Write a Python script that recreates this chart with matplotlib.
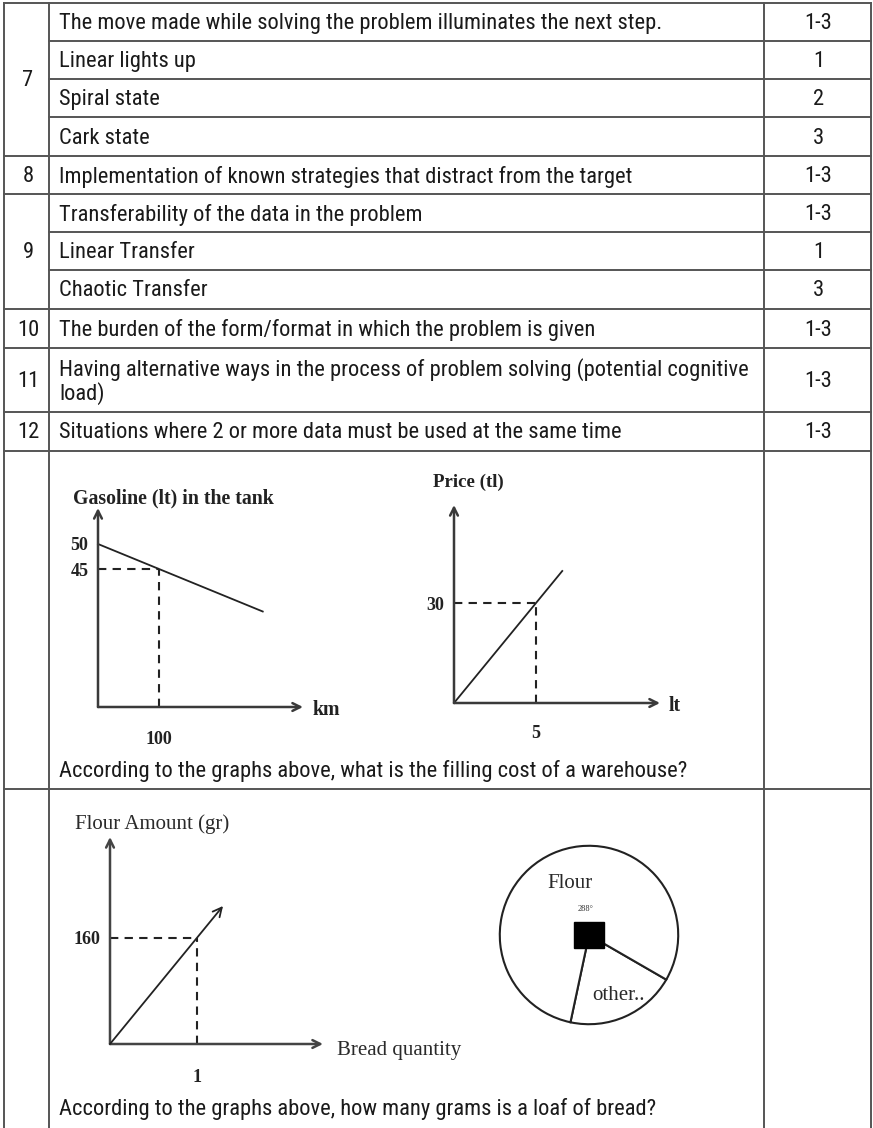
import matplotlib
matplotlib.use("Agg")
import matplotlib.pyplot as plt
from matplotlib import font_manager
from matplotlib.patches import Rectangle

# table content
row_nums = ["7", "", "", "", "8", "9", "", "", "10", "11", "12"]
row_texts = [
    "The move made while solving the problem illuminates the next step.",
    "Linear lights up",
    "Spiral state",
    "Cark state",
    "Implementation of known strategies that distract from the target",
    "Transferability of the data in the problem",
    "Linear Transfer",
    "Chaotic Transfer",
    "The burden of the form/format in which the problem is given",
    "Having alternative ways in the process of problem solving (potential cognitive\nload)",
    "Situations where 2 or more data must be used at the same time",
]
row_scores = ["1-3", "1", "2", "3", "1-3", "1-3", "1", "3", "1-3", "1-3", "1-3"]
question_1 = "According to the graphs above, what is the filling cost of a warehouse?"
question_2 = "According to the graphs above, how many grams is a loaf of bread?"

# graph data (read from the sketches)
gas_km = [0, 100, 270]
gas_lt = [50, 45, 36.5]
price_lt = [0, 5, 6.6]
price_tl = [0, 30, 39.6]
flour_bread = [0, 1, 1.3]
flour_gr = [0, 160, 208]
pie_deg = [72, 288]  # other, flour

W, H = 873, 1128
names = {f.name for f in font_manager.fontManager.ttflist}
sans = next(n for n in ["Liberation Sans Narrow", "Roboto Condensed", "Roboto", "DejaVu Sans"] if n in names)
serif = "Liberation Serif"
line_c = "#555555"
ink = "#1a1a1a"

fig = plt.figure(figsize=(W / 100, H / 100), dpi=100)
bg = fig.add_axes([0, 0, 1, 1])
bg.set_xlim(0, W)
bg.set_ylim(H, 0)
bg.axis("off")

# table grid
x_left, x_num, x_score, x_right = 4, 49, 764, 871
row_edges = [3, 41, 79, 117, 156, 194, 232, 270, 309, 348, 412, 451, 789, 1128]
full_lines = [3, 156, 194, 309, 348, 412, 451, 789]
for y in row_edges[:-1]:
    x0 = x_left if y in full_lines else x_num
    bg.plot([x0, x_right], [y, y], color=line_c, lw=1.4)
for x in [x_left, x_num, x_score, x_right]:
    bg.plot([x, x], [row_edges[0], H], color=line_c, lw=1.4)

tfont = dict(family=sans, fontsize=16.2, color=ink)
dy = 1.5
for i, txt in enumerate(row_texts):
    yc = (row_edges[i] + row_edges[i + 1]) / 2 + dy
    bg.text(59, yc, txt, ha="left", va="center", linespacing=1.1, **tfont)
    bg.text((x_score + x_right) / 2 + 1, yc, row_scores[i], ha="center", va="center", **tfont)
# number column, grouped rows get centred over their block
groups = {0: (0, 4), 4: (4, 5), 5: (5, 8), 8: (8, 9), 9: (9, 10), 10: (10, 11)}
for start, (a, b) in groups.items():
    yc = (row_edges[a] + row_edges[b]) / 2 + dy
    bg.text(28, yc, row_nums[start], ha="center", va="center", **tfont)

bg.text(59, 770 + dy, question_1, ha="left", va="center", **tfont)
bg.text(59, 1108 + dy, question_2, ha="left", va="center", **tfont)


def px_axes(left, top, right, bottom):
    return fig.add_axes([left / W, 1 - bottom / H, (right - left) / W, (bottom - top) / H])


def sketch_axes(ax, color="#3a3a3a"):
    for s in ax.spines.values():
        s.set_visible(False)
    ax.patch.set_alpha(0)
    ap = dict(arrowstyle="->", lw=1.8, color=color, mutation_scale=14, shrinkA=0, shrinkB=0)
    ax.annotate("", xy=(1, 0), xytext=(0, 0), xycoords="axes fraction", arrowprops=ap)
    ax.annotate("", xy=(0, 1), xytext=(0, 0), xycoords="axes fraction", arrowprops=ap)


dash = dict(color="#222222", lw=1.5, dashes=(4, 3), clip_on=False)

# graph 1: gasoline in the tank
ax1 = px_axes(98, 508, 303, 707)
ax1.set_xlim(0, 336)
ax1.set_ylim(17.4, 57.2)
sketch_axes(ax1)
ax1.plot(gas_km, gas_lt, color="#222222", lw=1.3, clip_on=False)
ax1.plot([0, gas_km[1]], [gas_lt[1], gas_lt[1]], **dash)
ax1.plot([gas_km[1], gas_km[1]], [17.4, gas_lt[1]], **dash)
ax1.set_yticks(gas_lt[:2])
ax1.set_yticklabels([str(v) for v in gas_lt[:2]])
ax1.set_xticks([gas_km[1]])
ax1.set_xticklabels([str(gas_km[1])])
ax1.tick_params(axis="y", length=0, pad=7)
ax1.tick_params(axis="x", length=0, pad=17)
for lab in ax1.get_xticklabels() + ax1.get_yticklabels():
    lab.set(family=serif, fontweight="bold", fontsize=13, color="#222222")
gfont = dict(family=serif, fontweight="bold", fontsize=14.3, color="#222222")
ax1.annotate("Gasoline (lt) in the tank", xy=(0, 1), xycoords="axes fraction",
             xytext=(-18, 6.5), textcoords="offset points", ha="left", va="center", **gfont)
ax1.annotate("km", xy=(1, 0), xycoords="axes fraction",
             xytext=(7, -2), textcoords="offset points", ha="left", va="center", **gfont)

# graph 2: price per litre
ax2 = px_axes(454, 505, 660, 703)
ax2.set_xlim(0, 12.56)
ax2.set_ylim(0, 59.4)
sketch_axes(ax2)
ax2.plot(price_lt, price_tl, color="#222222", lw=1.3, clip_on=False)
ax2.plot([0, price_lt[1]], [price_tl[1], price_tl[1]], **dash)
ax2.plot([price_lt[1], price_lt[1]], [0, price_tl[1]], **dash)
ax2.set_yticks([price_tl[1]])
ax2.set_yticklabels([str(price_tl[1])])
ax2.set_xticks([price_lt[1]])
ax2.set_xticklabels([str(price_lt[1])])
ax2.tick_params(axis="y", length=0, pad=7)
ax2.tick_params(axis="x", length=0, pad=16)
for lab in ax2.get_xticklabels() + ax2.get_yticklabels():
    lab.set(family=serif, fontweight="bold", fontsize=13, color="#222222")
ax2.annotate("Price (tl)", xy=(0, 1), xycoords="axes fraction",
             xytext=(-15, 16), textcoords="offset points", ha="left", va="center",
             family=serif, fontweight="bold", fontsize=13.6, color="#222222")
ax2.annotate("lt", xy=(1, 0), xycoords="axes fraction",
             xytext=(6, -2), textcoords="offset points", ha="left", va="center", **gfont)

# graph 3: flour per bread
ax3 = px_axes(110, 837, 323, 1044)
ax3.set_xlim(0, 2.45)
ax3.set_ylim(0, 312)
sketch_axes(ax3, color="#444444")
ax3.annotate("", xy=(flour_bread[2], flour_gr[2]), xytext=(0, 0), xycoords="data",
             arrowprops=dict(arrowstyle="->", lw=1.3, color="#222222", mutation_scale=16,
                             shrinkA=0, shrinkB=0))
ax3.plot([0, flour_bread[1]], [flour_gr[1], flour_gr[1]], **dash)
ax3.plot([flour_bread[1], flour_bread[1]], [0, flour_gr[1]], **dash)
ax3.set_yticks([flour_gr[1]])
ax3.set_yticklabels([str(flour_gr[1])])
ax3.set_xticks([flour_bread[1]])
ax3.set_xticklabels([str(flour_bread[1])])
ax3.tick_params(axis="y", length=0, pad=7)
ax3.tick_params(axis="x", length=0, pad=18)
for lab in ax3.get_xticklabels() + ax3.get_yticklabels():
    lab.set(family=serif, fontweight="bold", fontsize=13, color="#222222")
ffont = dict(family=serif, fontsize=15, color="#2a2a2a")
ax3.annotate("Flour Amount (gr)", xy=(0, 1), xycoords="axes fraction",
             xytext=(-25, 9.5), textcoords="offset points", ha="left", va="center", **ffont)
ax3.annotate("Bread quantity", xy=(1, 0), xycoords="axes fraction",
             xytext=(10, -5), textcoords="offset points", ha="left", va="center", **ffont)

# pie: flour share of a loaf
ax4 = px_axes(498, 844, 680, 1026)
ax4.pie(pie_deg, startangle=258, counterclock=True,
        colors=["white", "white"], wedgeprops=dict(edgecolor="#222222", linewidth=1.5))
ax4.set_xlim(-1.02, 1.02)
ax4.set_ylim(-1.02, 1.02)
ax4.set_aspect("equal")
ax4.add_patch(Rectangle((-0.17, -0.15), 0.34, 0.30, color="black", zorder=5))
ax4.text(-0.21, 0.58, "Flour", ha="center", va="center", **ffont)
ax4.text(-0.04, 0.29, "%d\u00b0" % pie_deg[1], ha="center", va="center",
         family=serif, fontsize=6, color="#333333")
ax4.text(0.33, -0.68, "other..", ha="center", va="center", **ffont)

fig.savefig("out.png", dpi=100)
